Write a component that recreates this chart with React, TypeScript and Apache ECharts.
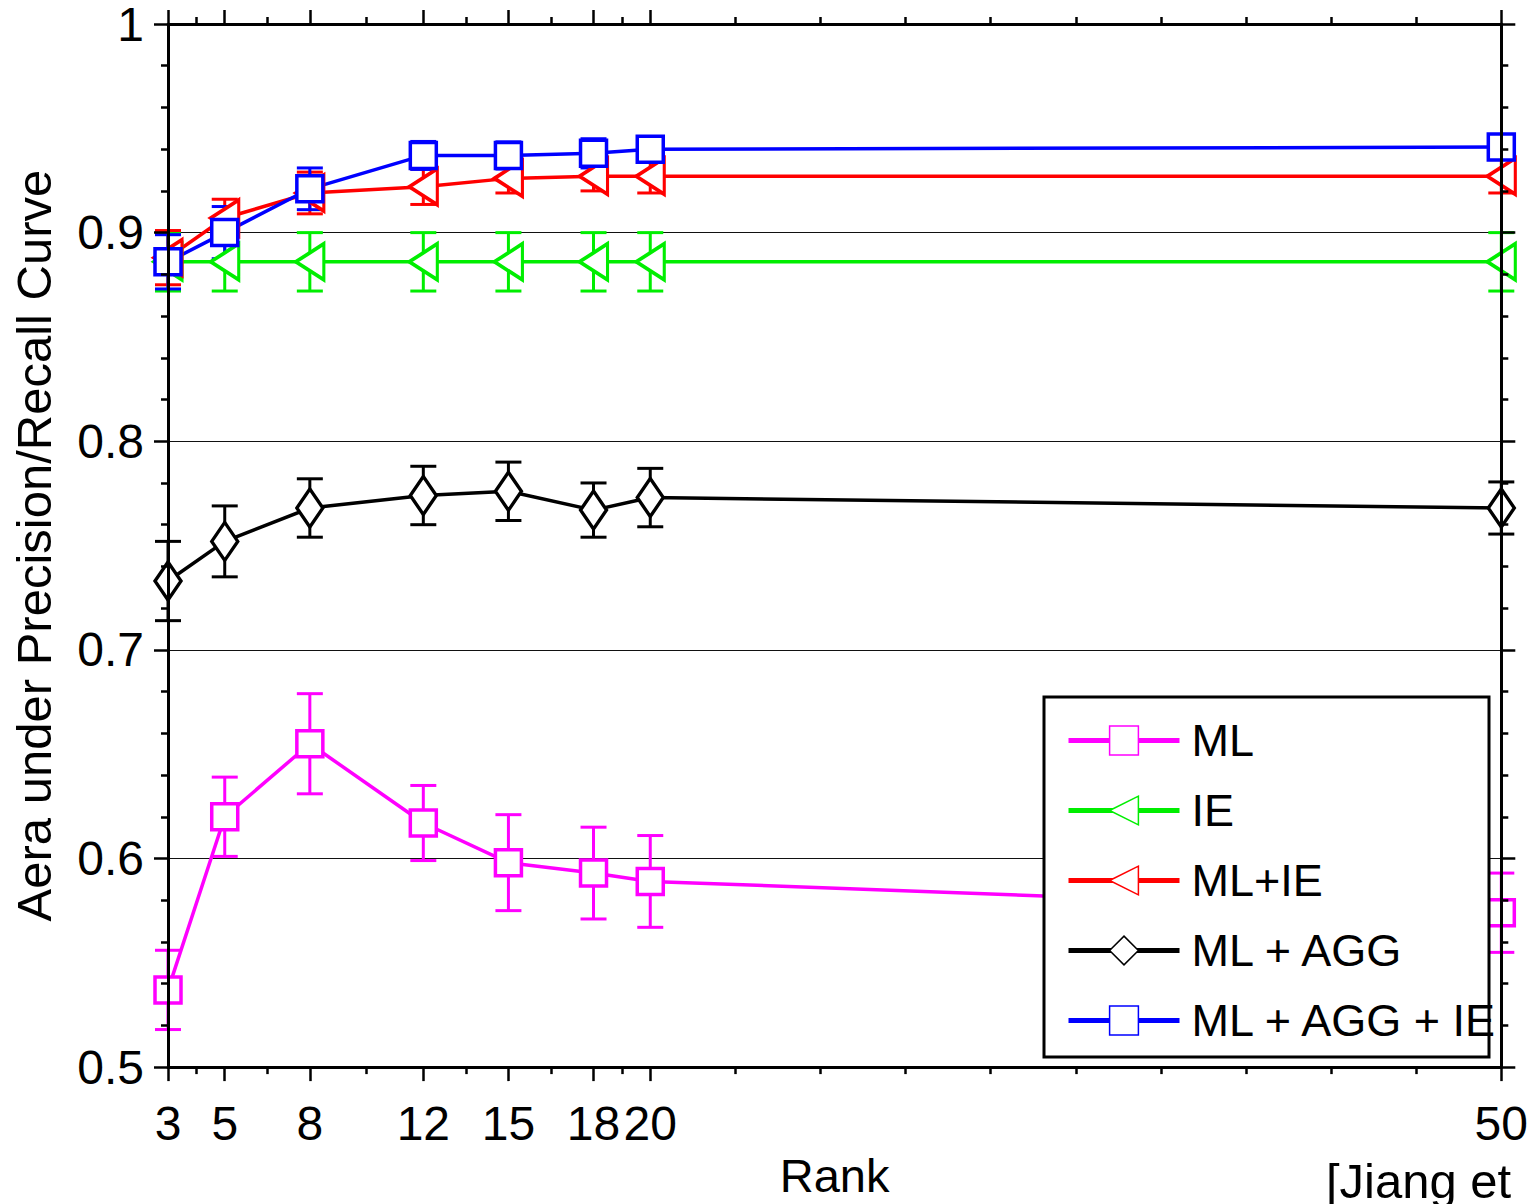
import React, { useEffect, useRef } from "react";
import * as echarts from "echarts";

const RANKS = [3, 5, 8, 12, 15, 18, 20, 50];
const X_MAJOR_TICKS = [3, 5, 8, 12, 15, 18, 20, 50];
const X_MINOR_TICKS = [4, 6.5, 10, 13.5, 16.5, 19, 23, 26, 29, 32, 35, 38, 41, 44, 47];

const SERIES_NAMES = ["ML", "IE", "ML+IE", "ML + AGG", "ML + AGG + IE"];

const ML = [0.537, 0.62, 0.655, 0.617, 0.598, 0.593, 0.589, 0.574];
const ML_ERR = [0.019, 0.019, 0.024, 0.018, 0.023, 0.022, 0.022, 0.019];

const IE = [0.886, 0.886, 0.886, 0.886, 0.886, 0.886, 0.886, 0.886];
const IE_ERR = [0.014, 0.014, 0.014, 0.014, 0.014, 0.014, 0.014, 0.014];

const ML_IE = [0.888, 0.907, 0.919, 0.922, 0.926, 0.927, 0.927, 0.927];
const ML_IE_ERR = [0.013, 0.009, 0.01, 0.0085, 0.007, 0.007, 0.008, 0.008];

const ML_AGG = [0.733, 0.752, 0.768, 0.774, 0.776, 0.767, 0.773, 0.768];
const ML_AGG_ERR = [0.019, 0.017, 0.014, 0.014, 0.014, 0.013, 0.014, 0.0125];

const ML_AGG_IE = [0.886, 0.9, 0.921, 0.937, 0.937, 0.938, 0.94, 0.941];
const ML_AGG_IE_ERR = [0.013, 0.0125, 0.01, 0.0067, 0.0065, 0.007, 0.005, 0.005];

const FONT = "Liberation Sans";
const TRI_LEFT = "path://M0,50 L100,0 L100,100 Z";

type Spec = {
  name: string;
  values: number[];
  errs: number[];
  color: string;
  symbol: string;
  size: number | number[];
};

const SPECS: Spec[] = [
  { name: "ML", values: ML, errs: ML_ERR, color: "#ff00ff", symbol: "rect", size: 26 },
  { name: "ML + AGG", values: ML_AGG, errs: ML_AGG_ERR, color: "#000000", symbol: "diamond", size: [26, 38] },
  { name: "IE", values: IE, errs: IE_ERR, color: "#00ee00", symbol: TRI_LEFT, size: [28, 36] },
  { name: "ML+IE", values: ML_IE, errs: ML_IE_ERR, color: "#ff0000", symbol: TRI_LEFT, size: [28, 36] },
  { name: "ML + AGG + IE", values: ML_AGG_IE, errs: ML_AGG_IE_ERR, color: "#0000ff", symbol: "rect", size: 26 },
];

function buildSeries() {
  const out: any[] = [];
  SPECS.forEach((s) => {
    out.push({
      type: "custom",
      name: s.name + " error",
      xAxisIndex: 0,
      yAxisIndex: 0,
      encode: { x: 0, y: [1, 2] },
      data: RANKS.map((r, i) => [r, s.values[i] - s.errs[i], s.values[i] + s.errs[i]]),
      renderItem: (params: any, api: any) => {
        const x = api.value(0);
        const lo = api.coord([x, api.value(1)]);
        const hi = api.coord([x, api.value(2)]);
        const hw = 13;
        const st = { stroke: s.color, lineWidth: 3, fill: null };
        return {
          type: "group",
          children: [
            { type: "line", shape: { x1: lo[0], y1: lo[1], x2: hi[0], y2: hi[1] }, style: st },
            { type: "line", shape: { x1: lo[0] - hw, y1: lo[1], x2: lo[0] + hw, y2: lo[1] }, style: st },
            { type: "line", shape: { x1: hi[0] - hw, y1: hi[1], x2: hi[0] + hw, y2: hi[1] }, style: st },
          ],
        };
      },
      silent: true,
    });
    out.push({
      type: "line",
      name: s.name,
      xAxisIndex: 0,
      yAxisIndex: 0,
      data: RANKS.map((r, i) => [r, s.values[i]]),
      symbol: s.symbol,
      symbolSize: s.size,
      showAllSymbol: true,
      clip: false,
      lineStyle: { color: s.color, width: 3.5 },
      itemStyle: { color: "#ffffff", borderColor: s.color, borderWidth: 3.5 },
      emphasis: { disabled: true },
    });
  });
  return out;
}

export default function App() {
  const ref = useRef<HTMLDivElement>(null);
  useEffect(() => {
    if (!ref.current) return;
    const chart = echarts.init(ref.current, null, { renderer: "svg" });
    const axisLine = { show: true, lineStyle: { color: "#000", width: 3 } };
    const baseX = { type: "value", min: 3, max: 50, splitLine: { show: false }, z: 10 };
    const baseY = { type: "value", min: 0.5, max: 1, interval: 0.1 };
    chart.setOption({
      animation: false,
      backgroundColor: "#ffffff",
      grid: { left: 168, right: 29, top: 22, bottom: 130, containLabel: false },
      xAxis: [
        {
          ...baseX,
          position: "bottom",
          axisLine,
          axisTick: { show: true, inside: false, length: 14, customValues: X_MAJOR_TICKS, lineStyle: { color: "#000", width: 2.5 } },
          axisLabel: { show: true, customValues: X_MAJOR_TICKS, fontSize: 48, fontFamily: FONT, color: "#000", margin: 32 },
          name: "Rank",
          nameLocation: "middle",
          nameGap: 84,
          nameTextStyle: { fontSize: 47, fontFamily: FONT, color: "#000" },
        },
        {
          ...baseX,
          position: "bottom",
          axisLine: { show: false },
          axisTick: { show: true, length: 7, customValues: X_MINOR_TICKS, lineStyle: { color: "#000", width: 2.5 } },
          axisLabel: { show: false },
        },
        {
          ...baseX,
          position: "top",
          axisLine,
          axisTick: { show: true, length: 14, customValues: X_MAJOR_TICKS, lineStyle: { color: "#000", width: 2.5 } },
          axisLabel: { show: false },
        },
        {
          ...baseX,
          position: "top",
          axisLine: { show: false },
          axisTick: { show: true, length: 7, customValues: X_MINOR_TICKS, lineStyle: { color: "#000", width: 2.5 } },
          axisLabel: { show: false },
        },
      ],
      yAxis: [
        {
          ...baseY,
          position: "left",
          z: 0,
          axisLine: { show: false },
          axisTick: { show: false },
          splitLine: { show: true, lineStyle: { color: "#111", width: 1.2 } },
          axisLabel: { show: true, fontSize: 48, lineHeight: 40, fontFamily: FONT, color: "#000", margin: 24 },
          name: "Aera under Precision/Recall Curve",
          nameLocation: "middle",
          nameGap: 110,
          nameTextStyle: { fontSize: 49, fontFamily: FONT, color: "#000" },
        },
        {
          ...baseY,
          position: "left",
          z: 10,
          axisLine,
          axisTick: { show: true, length: 14, lineStyle: { color: "#000", width: 2.5 } },
          minorTick: { show: true, splitNumber: 5, length: 7, lineStyle: { color: "#000", width: 2.5 } },
          splitLine: { show: false },
          axisLabel: { show: false },
        },
        {
          ...baseY,
          position: "right",
          z: 10,
          axisLine,
          axisTick: { show: true, length: 14, lineStyle: { color: "#000", width: 2.5 } },
          minorTick: { show: true, splitNumber: 5, length: 7, lineStyle: { color: "#000", width: 2.5 } },
          splitLine: { show: false },
          axisLabel: { show: false },
        },
      ],
      legend: {
        data: SERIES_NAMES,
        orient: "vertical",
        left: 1061,
        top: 713,
        padding: 5,
        itemWidth: 111,
        itemHeight: 36,
        itemGap: 25,
        selectedMode: false,
        z: 60,
        textStyle: { fontSize: 45, fontFamily: FONT, color: "#000", padding: [0, 0, 0, 7] },
        itemStyle: { borderWidth: 1.5 },
        lineStyle: { width: 5 },
      },
      graphic: [
        {
          type: "rect",
          z: 50,
          shape: { x: 1044, y: 697, width: 445, height: 360 },
          style: { fill: "#ffffff", stroke: "#000000", lineWidth: 3 },
        },
        {
          type: "text",
          z: 50,
          x: 1326,
          y: 1156,
          style: { text: "[Jiang et", fontSize: 49, fontFamily: FONT, fill: "#000" },
        },
      ],
      series: buildSeries(),
    });
    return () => chart.dispose();
  }, []);
  return (
    <div
      ref={ref}
      style={{ position: "fixed", left: 0, top: 0, width: 1531, height: 1204, background: "#fff" }}
    />
  );
}
